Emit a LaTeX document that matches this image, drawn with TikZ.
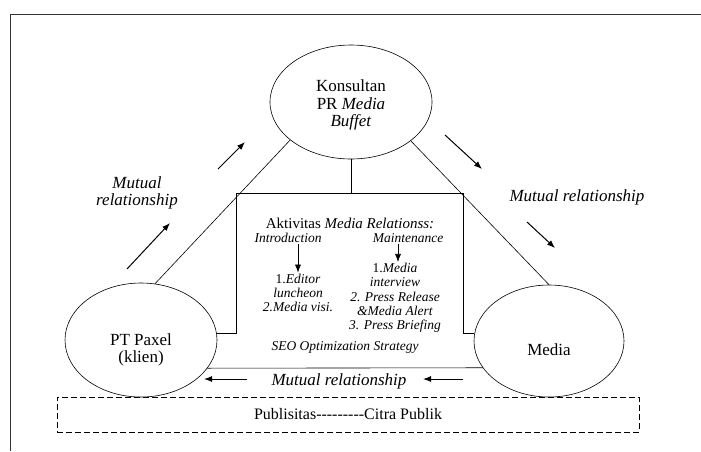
\documentclass[tikz,border=0pt]{standalone}
\usepackage{fontspec}
\setmainfont{Liberation Serif}
\usetikzlibrary{arrows.meta,shapes.geometric}

\begin{document}
\begin{tikzpicture}[x=1pt,y=-1pt,>={Latex[length=8pt,width=6pt]},line width=0.6pt,
  elips/.style={draw,ellipse,inner sep=0pt},
  besar/.style={align=center,font=\fontsize{17}{17.5}\selectfont},
  besarmiring/.style={align=center,font=\fontsize{17}{17.5}\selectfont\itshape},
  kecil/.style={align=center,inner sep=1pt,font=\fontsize{13.5}{14.3}\selectfont},
  kecilmiring/.style={align=center,inner sep=1pt,font=\fontsize{13.5}{14.3}\selectfont\itshape}]

  \useasboundingbox (0,0) rectangle (701,451);
  \draw[line width=0.9pt,black!80] (701,14) -- (10,14) -- (10,451);

  \node[elips,minimum width=162pt,minimum height=114pt,
    label={[besar,yshift=-3pt]center:Konsultan\\PR \textit{Media}\\\textit{Buffet}}] (kons) at (351,102) {};
  \node[elips,minimum width=152pt,minimum height=114pt,
    label={[besar,yshift=-10pt]center:PT Paxel\\(klien)}] (paxel) at (141,340) {};
  \node[elips,minimum width=150pt,minimum height=112pt,
    label={[besar,yshift=-9pt]center:Media}] (media) at (549,341) {};

  \coordinate (kiriatas) at (236,193);
  \coordinate (kananatas) at (463,193);

  % segitiga dan kotak aktivitas
  \draw (kons.212) -- (paxel.76);
  \draw (kons.327) -- (media.90);
  \draw (paxel.-23) -- (media.202);
  \draw (paxel.5) -| (kiriatas) -- (kananatas) |- (media.174);
  \draw (kons.south) -- (kons.south |- kiriatas);

  \node[font=\fontsize{15}{16}\selectfont] (judul) at (350,223) {Aktivitas \textit{Media Relationss:}};
  \node[kecilmiring] (intro) at (288,238) {Introduction};
  \node[kecilmiring] (maint) at (408,238) {Maintenance};
  \node[kecil] (lkiri) at (298,293) {1.\textit{Editor}\\\textit{luncheon}\\\textit{2.Media visi.}};
  \node[kecil] (lkanan) at (395,298) {1.\textit{Media}\\\textit{interview}\\\textit{2. Press Release}\\\textit{\&Media Alert}\\\textit{3. Press Briefing}};
  \node[kecilmiring] (seo) at (345,347) {SEO Optimization Strategy};
  \draw[->] (intro.south -| lkiri.north) -- (lkiri.north);
  \draw[->] (maint.south -| 398,0) -- (lkanan.north -| 398,0);

  % mutual relationship
  \node[besarmiring] (mrkiri) at (137,193) {Mutual\\relationship};
  \node[besarmiring] (mrkanan) at (577,197) {Mutual relationship};
  \node[besarmiring] (mrbawah) at (339,381) {Mutual relationship};
  \foreach \xa/\ya/\xb/\yb in {218/169/245/142, 127/269/170/223, 445/135/482/169,
                               527/222/555/248, 247/379/204/379, 463/379/423/379}
    \draw[->,line width=1pt] (\xa,\ya) -- (\xb,\yb);

  \node[draw,dashed,dash pattern=on 6pt off 3pt,minimum width=582pt,minimum height=35pt,
    font=\fontsize{16}{17}\selectfont] (publik) at (348,414.5) {Publisitas-{}-{}-{}-{}-{}-{}-{}-{}-Citra Publik};
\end{tikzpicture}
\end{document}
